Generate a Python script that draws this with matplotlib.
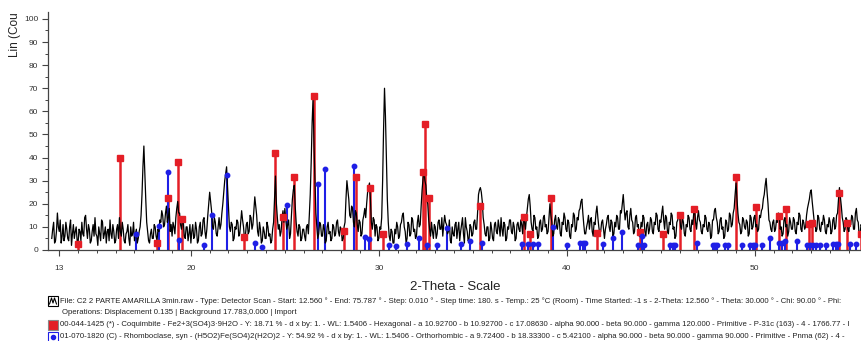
import numpy as np
import matplotlib.pyplot as plt
from matplotlib.patches import Rectangle

plt.rcParams['font.family'] = ['Liberation Sans', 'DejaVu Sans']

two_theta_start = 12.6
step = 0.05
counts = [5, 9, 12, 3, 4, 8, 16, 10,
          8, 13, 3, 6, 11, 4, 6, 12, 9, 5, 4, 10, 13, 2, 7, 11, 5, 8, 10, 4,
          3, 9, 8, 4, 12, 7, 6, 14, 15, 9, 5, 11, 9, 3, 4, 8, 11, 6, 14, 7,
          6, 2, 10, 7, 4, 13, 12, 5, 7, 10, 3, 8, 9, 4, 13, 7, 5, 11, 8, 3,
          4, 9, 11, 5, 14, 8, 6, 12, 9, 4, 3, 7, 8, 11, 5, 2, 10, 6, 7, 12,
          4, 7, 9, 3, 5, 8, 10, 15, 24, 36, 45, 33, 22, 12, 8, 4, 3, 7, 9, 5,
          5, 11, 10, 6, 4, 9, 8, 13, 12, 17, 15, 10, 11, 16, 19, 12, 14, 18, 8, 11,
          6, 12, 10, 7, 14, 18, 21, 16, 16, 11, 9, 13, 12, 6, 5, 10, 10, 4, 7, 11,
          3, 8, 11, 5, 6, 12, 9, 3, 4, 10, 12, 6, 7, 13, 14, 8, 5, 9, 15, 20,
          25, 21, 17, 10, 9, 14, 12, 7, 6, 10, 14, 9, 11, 16, 20, 25, 30, 33, 36, 27,
          18, 10, 8, 12, 11, 4, 5, 10, 9, 13, 12, 6, 7, 12, 17, 13, 10, 5, 6, 11,
          12, 7, 8, 15, 14, 9, 11, 17, 23, 19, 15, 8, 6, 12, 9, 3, 4, 10, 8, 5,
          5, 12, 10, 6, 7, 3, 4, 9, 12, 22, 32, 20, 14, 9, 11, 6, 8, 14, 17, 12,
          18, 13, 9, 11, 13, 5, 7, 15, 22, 26, 28, 19, 12, 8, 6, 11, 10, 4, 5, 9,
          9, 6, 4, 10, 11, 7, 15, 24, 38, 55, 66, 45, 30, 16, 10, 5, 7, 12, 11, 6,
          6, 11, 9, 3, 4, 10, 12, 7, 8, 4, 5, 11, 10, 6, 7, 12, 13, 8, 6, 10,
          9, 4, 5, 10, 12, 22, 30, 26, 22, 15, 14, 19, 18, 12, 10, 17, 16, 11, 8, 13,
          12, 6, 7, 13, 15, 18, 14, 20, 25, 27, 29, 22, 12, 9, 14, 13, 6, 11, 10, 4,
          5, 10, 9, 14, 30, 52, 70, 58, 40, 22, 12, 6, 4, 9, 8, 3, 3, 9, 7, 12,
          10, 5, 6, 11, 12, 15, 16, 10, 8, 3, 5, 12, 11, 6, 7, 14, 13, 8, 9, 5,
          6, 12, 15, 10, 11, 19, 26, 31, 34, 30, 28, 22, 20, 13, 9, 6, 12, 8, 5, 11,
          10, 5, 7, 12, 13, 9, 9, 14, 6, 11, 15, 12, 11, 7, 8, 13, 4, 3, 10, 7,
          6, 11, 12, 5, 9, 12, 4, 8, 11, 14, 7, 3, 14, 10, 8, 4, 5, 11, 10, 6,
          7, 12, 13, 9, 9, 16, 24, 26, 27, 25, 21, 14, 11, 7, 6, 10, 10, 4, 5, 12,
          9, 5, 4, 11, 12, 8, 7, 13, 10, 6, 14, 9, 6, 12, 11, 4, 5, 10, 9, 13,
          13, 8, 7, 12, 10, 4, 5, 11, 12, 9, 8, 13, 11, 7, 15, 12, 9, 14, 18, 22,
          24, 19, 12, 9, 8, 15, 14, 9, 10, 5, 6, 12, 13, 8, 9, 14, 15, 10, 11, 7,
          8, 14, 20, 15, 12, 6, 7, 13, 15, 10, 9, 14, 13, 7, 6, 12, 11, 16, 14, 9,
          8, 13, 12, 6, 5, 11, 10, 16, 15, 8, 9, 14, 13, 17, 18, 21, 22, 16, 11, 7,
          7, 10, 12, 15, 9, 13, 14, 8, 6, 12, 11, 16, 19, 14, 10, 7, 8, 12, 13, 9,
          5, 9, 11, 14, 15, 10, 8, 13, 12, 6, 7, 12, 10, 15, 14, 9, 9, 17, 16, 20,
          24, 18, 13, 16, 17, 10, 9, 15, 18, 13, 12, 7, 8, 14, 15, 10, 11, 6, 7, 12,
          10, 15, 14, 8, 6, 11, 12, 7, 9, 14, 13, 8, 7, 12, 11, 16, 15, 9, 8, 13,
          12, 16, 19, 13, 9, 15, 14, 8, 7, 12, 11, 16, 15, 9, 10, 5, 6, 12, 13, 16,
          15, 10, 9, 14, 12, 7, 6, 11, 10, 15, 14, 9, 8, 13, 11, 16, 17, 12, 9, 14,
          17, 13, 12, 8, 7, 11, 10, 15, 14, 9, 8, 12, 11, 5, 6, 13, 13, 17, 18, 14,
          12, 7, 8, 13, 14, 9, 10, 5, 6, 13, 12, 8, 9, 16, 15, 10, 11, 16, 18, 24,
          29, 22, 16, 12, 11, 7, 8, 14, 13, 10, 9, 13, 12, 6, 7, 15, 14, 9, 10, 14,
          15, 10, 11, 8, 9, 15, 14, 17, 18, 22, 24, 28, 31, 25, 20, 13, 12, 9, 8, 12,
          13, 8, 9, 13, 12, 16, 15, 9, 10, 6, 7, 13, 14, 10, 11, 6, 8, 14, 12, 9,
          9, 14, 13, 8, 7, 12, 11, 16, 15, 9, 8, 13, 12, 9, 10, 15, 18, 20, 22, 25,
          26, 21, 17, 13, 12, 8, 9, 15, 14, 9, 8, 12, 11, 15, 13, 8, 7, 11, 10, 14,
          12, 7, 8, 13, 14, 9, 10, 15, 16, 22, 27, 23, 19, 14, 12, 8, 9, 14, 13, 9,
          8, 12, 11, 15, 14, 9, 9, 16, 18, 13, 12, 6, 7, 11, 10, 8]
two_theta = two_theta_start + step * np.arange(len(counts))

# 00-044-1425 Coquimbite (red)
coq_pos = [14.02, 16.23, 18.18, 18.8, 19.34, 19.54, 22.85, 24.5, 24.92, 25.46,
           26.53, 28.16, 28.81, 29.54, 30.2, 32.33, 32.45, 32.68, 35.38, 37.72,
           38.04, 39.14, 41.6, 43.9, 45.13, 46.02, 46.78, 48.98, 50.06, 51.28,
           51.66, 52.9, 53.02, 54.49, 54.88, 55.67]
coq_int = [2.5, 40, 3, 22.6, 38.2, 13.4, 5.8, 42, 14.2, 31.7,
           66.8, 8.4, 31.7, 27, 7, 33.9, 54.4, 22.6, 19, 14.4,
           7, 22.4, 7.2, 8, 7, 15.2, 17.6, 31.7, 18.7, 14.7,
           17.6, 11.3, 11.6, 24.5, 11.8, 7]

# 01-070-1820 Rhomboclase (blue)
rho_pos = [17.1, 18.28, 18.8, 19.38, 20.7, 21.13, 21.94, 23.41, 23.77, 25.1,
           26.75, 27.11, 28.67, 29.26, 29.46, 30.55, 30.9, 31.48, 32.15, 32.57,
           33.07, 33.6, 34.35, 34.85, 35.47, 37.6, 37.95, 38.2, 38.45, 39.28,
           40.0, 40.7, 40.85, 40.96, 41.9, 42.45, 42.91, 43.8, 43.98, 44.1,
           45.5, 45.62, 45.75, 46.9, 47.77, 47.9, 48.0, 48.4, 48.55, 49.3,
           49.74, 49.88, 50.0, 50.36, 50.8, 51.3, 51.45, 51.6, 52.22, 52.8,
           52.95, 53.1, 53.25, 53.45, 53.8, 54.15, 54.3, 54.4, 55.05, 55.4]
rho_int = [7, 10.5, 33.6, 4.3, 2.2, 15, 32.5, 3, 1.5, 19.3,
           28.6, 35, 36.4, 5.8, 4.6, 2, 1.8, 2.5, 5, 2,
           2, 9.7, 2.5, 4, 3, 2.5, 2.5, 2.5, 2.5, 10,
           2, 3, 3, 3, 2.7, 5, 8, 2, 6, 2,
           2, 2, 2, 3, 2, 2, 2, 2, 2, 2,
           2, 2, 2, 2, 5, 3, 3, 4, 4, 2,
           2, 2, 2, 2, 2, 2.5, 2.5, 2.5, 2.5, 2.5]

red = '#e41e26'
blue = '#1f1fe6'
grey = '#444444'

fig = plt.figure(figsize=(8.62, 3.41), dpi=100)
ax = fig.add_axes([48 / 862, 1 - 250 / 341, 1 - 48 / 862, 238 / 341])

ax.vlines(coq_pos, 0, coq_int, color=red, lw=1.8, zorder=2)
ax.vlines(rho_pos, 0, rho_int, color=blue, lw=1.5, zorder=2)
ax.plot(two_theta, counts, color='black', lw=0.9, zorder=3)
ax.plot(coq_pos, coq_int, 's', color=red, ms=3.8, zorder=4)
ax.plot(rho_pos, rho_int, 'o', color=blue, ms=3.2, zorder=4)

ax.set_xlim(12.4, 55.7)
ax.set_ylim(0, 103)
ax.set_xticks([13, 20, 30, 40, 50])
ax.set_xticks(np.arange(13, 56, 1), minor=True)
ax.set_yticks(np.arange(0, 101, 10))
ax.set_yticks(np.arange(0, 101, 5), minor=True)
for s in ['top', 'right']:
    ax.spines[s].set_visible(False)
for s in ['left', 'bottom']:
    ax.spines[s].set_color(grey)
    ax.spines[s].set_linewidth(0.9)
ax.tick_params(axis='both', which='major', length=4, width=0.8, color=grey,
               labelsize=6, labelcolor='#333333')
ax.tick_params(axis='y', which='major', pad=3)
ax.tick_params(axis='x', which='major', pad=7)
ax.tick_params(axis='both', which='minor', length=2.5, width=0.7, color=grey)

ax.set_xlabel('2-Theta - Scale', fontsize=9.5, color='#222222', labelpad=6)
fig.text(0.011, 0.965, 'Lin (Cou', rotation=90, va='top', ha='left',
         fontsize=8.5, color='#222222')

lines = [
    'File: C2 2 PARTE AMARILLA 3min.raw - Type: Detector Scan - Start: 12.560 ° - End: 75.787 ° - Step: 0.010 ° - Step time: 180. s - Temp.: 25 °C (Room) - Time Started: -1 s - 2-Theta: 12.560 ° - Theta: 30.000 ° - Chi: 90.00 ° - Phi:',
    'Operations: Displacement 0.135 | Background 17.783,0.000 | Import',
    '00-044-1425 (*) - Coquimbite - Fe2+3(SO4)3·9H2O - Y: 18.71 % - d x by: 1. - WL: 1.5406 - Hexagonal - a 10.92700 - b 10.92700 - c 17.08630 - alpha 90.000 - beta 90.000 - gamma 120.000 - Primitive - P-31c (163) - 4 - 1766.77 - I',
    '01-070-1820 (C) - Rhomboclase, syn - (H5O2)Fe(SO4)2(H2O)2 - Y: 54.92 % - d x by: 1. - WL: 1.5406 - Orthorhombic - a 9.72400 - b 18.33300 - c 5.42100 - alpha 90.000 - beta 90.000 - gamma 90.000 - Primitive - Pnma (62) - 4 -',
]
rows_y = [301, 313, 325, 337]
text_x = [60, 62, 60, 60]
for t, y, x in zip(lines, rows_y, text_x):
    fig.text(x / 862, 1 - y / 341, t, fontsize=5.6, va='center', ha='left',
             color='#222222')

# legend boxes
def box(y, face, edge):
    fig.patches.append(Rectangle((48 / 862, 1 - (y + 5) / 341), 10 / 862, 10 / 341,
                                 transform=fig.transFigure, facecolor=face,
                                 edgecolor=edge, lw=0.8))

box(301, 'white', 'black')
fig.lines.append(plt.Line2D([49.5 / 862, 51.5 / 862, 53 / 862, 54.5 / 862, 56.5 / 862],
                            [1 - 304 / 341, 1 - 298 / 341, 1 - 303 / 341, 1 - 298 / 341, 1 - 304 / 341],
                            transform=fig.transFigure, color='black', lw=0.8))
box(325, red, '#888888')
box(337, 'white', blue)
fig.lines.append(plt.Line2D([53 / 862], [1 - 337 / 341], transform=fig.transFigure,
                            marker='o', ms=3, color=blue))

plt.savefig('out.png', dpi=100)
